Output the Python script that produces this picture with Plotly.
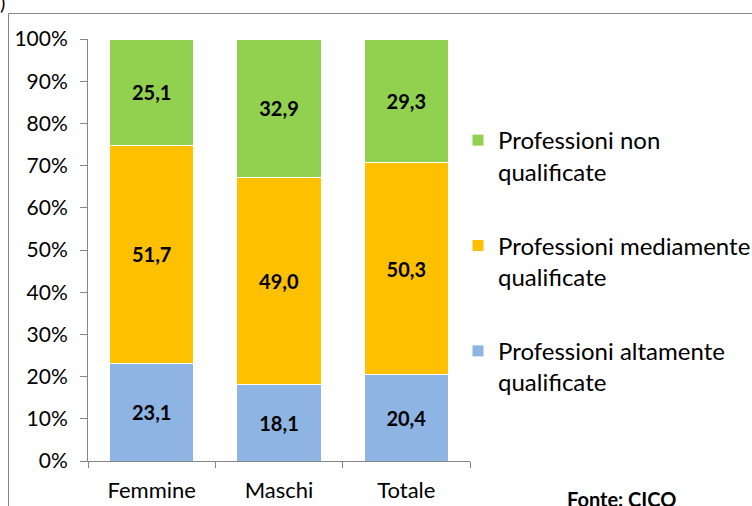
import plotly.graph_objects as go

categories = ["Femmine", "Maschi", "Totale"]
alte = [23.1, 18.1, 20.4]
medie = [51.7, 49.0, 50.3]
non_qual = [25.1, 32.9, 29.3]
series_names = ["Professioni altamente<br>qualificate",
                "Professioni mediamente<br>qualificate",
                "Professioni non<br>qualificate"]
colors = ["#8EB4E3", "#FFC000", "#92D050"]
legend_ranks = [3, 2, 1]
tick_vals = list(range(0, 101, 10))
tick_text = [f"{v}%" for v in tick_vals]

FONT = "Lato"
fig = go.Figure()
for i, (name, vals, col) in enumerate(zip(series_names, [alte, medie, non_qual], colors)):
    fig.add_trace(go.Bar(
        x=categories, y=vals, name=name, legendgroup=f"g{i}", legendrank=legend_ranks[i],
        marker=dict(color=col, line=dict(color="white", width=1)),
        text=[f"{v:.1f}".replace(".", ",") for v in vals],
        textposition="inside", insidetextanchor="middle",
        textfont=dict(family=FONT, size=20, color="black", weight="bold"),
        width=0.66, hoverinfo="skip",
    ))

L, R, T, B = 88, 282, 39, 45
W, H = 752, 506
pw, ph = W - L - R, H - T - B
def px_x(p): return (p - L) / pw
def px_y(p): return (H - B - p) / ph

fig.update_layout(
    width=W, height=H, barmode="stack",
    margin=dict(l=L, r=R, t=T, b=B, autoexpand=False),
    paper_bgcolor="white", plot_bgcolor="white",
    font=dict(family=FONT, size=20, color="black"),
    xaxis=dict(showline=True, linecolor="#868686", linewidth=1,
               ticks="outside", tickson="boundaries", ticklen=6, tickcolor="#868686",
               tickfont=dict(size=22), showgrid=False, ticklabelstandoff=10),
    yaxis=dict(range=[0, 100], tickvals=tick_vals, ticktext=tick_text,
               showline=True, linecolor="#868686", linewidth=1,
               ticks="outside", ticklen=7, tickcolor="#868686",
               tickfont=dict(size=21), showgrid=False, zeroline=False,
               ticklabelstandoff=8),
    legend=dict(x=px_x(458), y=px_y(118), xanchor="left", yanchor="top",
                traceorder="grouped", tracegroupgap=40, valign="top",
                font=dict(size=24), bgcolor="rgba(0,0,0,0)"),
    showlegend=True,
)
fig.add_shape(type="rect", xref="paper", yref="paper",
              x0=px_x(8.5), x1=px_x(800), y0=px_y(560), y1=px_y(13.5),
              line=dict(color="#868686", width=1), fillcolor="rgba(0,0,0,0)", layer="below")
fig.add_annotation(text=")", xref="paper", yref="paper", x=px_x(-2), y=px_y(-12),
                   xanchor="left", yanchor="top", showarrow=False, font=dict(size=20))
fig.add_annotation(text="<b>Fonte: CICO</b>", xref="paper", yref="paper",
                   x=px_x(621), y=px_y(513), xanchor="center", yanchor="bottom",
                   showarrow=False, font=dict(size=20))
fig.write_html("out.html", config={"displayModeBar": False},
               post_script="document.body.style.margin='0';")
